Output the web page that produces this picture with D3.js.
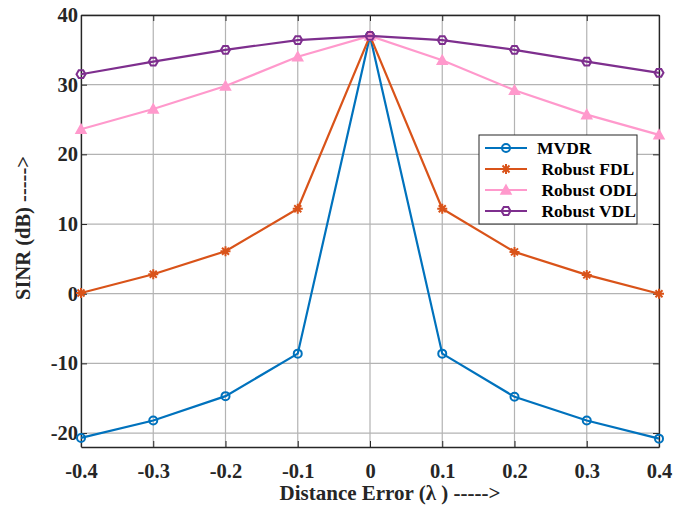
<!DOCTYPE html>
<html>
<head>
<meta charset="utf-8">
<script src="https://cdn.jsdelivr.net/npm/d3@7"></script>
<style>
  body { margin: 0; background: #fff; }
  text { font-family: "Liberation Serif", "Times New Roman", serif; font-weight: bold; }
</style>
</head>
<body>
<svg id="chart" width="695" height="506"></svg>
<script>
var distErr = [-0.4, -0.3, -0.2, -0.1, 0, 0.1, 0.2, 0.3, 0.4];
var mvdr = [-20.7, -18.2, -14.7, -8.6, 37, -8.6, -14.8, -18.2, -20.8];
var fdl = [0.1, 2.8, 6.1, 12.2, 37, 12.2, 6.0, 2.7, 0.0];
var odl = [23.6, 26.5, 29.8, 34.0, 37, 33.5, 29.2, 25.7, 22.8];
var vdl = [31.5, 33.3, 35.0, 36.4, 37, 36.4, 35.0, 33.3, 31.7];
var xTicks = [-0.4, -0.3, -0.2, -0.1, 0, 0.1, 0.2, 0.3, 0.4];
var yTicks = [-20, -10, 0, 10, 20, 30, 40];

var series = [
    { name: "MVDR", values: mvdr, color: "#0072BD", marker: "circle" },
    { name: " Robust FDL", values: fdl, color: "#D95319", marker: "star" },
    { name: " Robust ODL", values: odl, color: "#FF99CC", marker: "triangle" },
    { name: " Robust VDL", values: vdl, color: "#7E2F8E", marker: "hex" }
];

var svg = d3.select("#chart");
var pLeft = 81, pRight = 659, pTop = 15, pBottom = 447;

var x = d3.scaleLinear().domain([-0.4, 0.4]).range([pLeft, pRight]);
var y = d3.scaleLinear().domain([-22, 40]).range([pBottom, pTop]);

// grid
svg.append("g").selectAll("line").data(xTicks).enter().append("line")
    .attr("x1", function (d) { return x(d); }).attr("x2", function (d) { return x(d); })
    .attr("y1", pTop).attr("y2", pBottom)
    .attr("stroke", "#b3b3b3").attr("stroke-width", 1.2);
svg.append("g").selectAll("line").data(yTicks).enter().append("line")
    .attr("x1", pLeft).attr("x2", pRight)
    .attr("y1", function (d) { return y(d); }).attr("y2", function (d) { return y(d); })
    .attr("stroke", "#b3b3b3").attr("stroke-width", 1.2);

// axes
var fmtX = function (d) { return d === 0 ? "0" : d3.format(".1f")(d).replace("\u2212", "-"); };
var fmtY = function (d) { return String(d); };
svg.append("g").attr("transform", "translate(0," + pBottom + ")")
    .call(d3.axisBottom(x).tickValues(xTicks).tickFormat(fmtX).tickSizeInner(-6).tickSizeOuter(0).tickPadding(16));
svg.append("g").attr("transform", "translate(" + pLeft + ",0)")
    .call(d3.axisLeft(y).tickValues(yTicks).tickFormat(fmtY).tickSizeInner(-6).tickSizeOuter(0).tickPadding(3));
svg.append("g").attr("transform", "translate(0," + pTop + ")")
    .call(d3.axisTop(x).tickValues(xTicks).tickFormat("").tickSizeInner(-6).tickSizeOuter(0));
svg.append("g").attr("transform", "translate(" + pRight + ",0)")
    .call(d3.axisRight(y).tickValues(yTicks).tickFormat("").tickSizeInner(-6).tickSizeOuter(0));

svg.selectAll(".domain").attr("stroke", "#262626").attr("stroke-width", 1.3);
svg.selectAll(".tick line").attr("stroke", "#262626");
svg.selectAll(".tick text").attr("font-size", 20.5).attr("fill", "#262626")
    .style("font-family", "Liberation Serif").style("font-weight", "bold");

// lines
var line = d3.line()
    .x(function (d, i) { return x(distErr[i]); })
    .y(function (d) { return y(d); });

function drawMarker(g, type, color) {
    if (type === "circle") {
        g.append("circle").attr("r", 4).attr("fill", "none").attr("stroke", color).attr("stroke-width", 2);
    } else if (type === "star") {
        g.append("path").attr("d", "M-5,0L5,0M0,-5L0,5M-3.5,-3.5L3.5,3.5M-3.5,3.5L3.5,-3.5")
            .attr("stroke", color).attr("stroke-width", 2);
    } else if (type === "triangle") {
        g.append("path").attr("d", "M0,-5L5,4L-5,4Z").attr("fill", color).attr("stroke", color).attr("stroke-width", 1.5);
    } else {
        g.append("path").attr("d", d3.line()(d3.range(6).map(function (k) {
            var a = Math.PI / 3 * k;
            return [4.5 * Math.cos(a), 4.5 * Math.sin(a)];
        })) + "Z").attr("fill", "none").attr("stroke", color).attr("stroke-width", 2);
    }
}

series.forEach(function (s) {
    svg.append("path").datum(s.values)
        .attr("d", line).attr("fill", "none")
        .attr("stroke", s.color).attr("stroke-width", 2.2);
    svg.append("g").selectAll("g").data(s.values).enter().append("g")
        .attr("transform", function (d, i) { return "translate(" + x(distErr[i]) + "," + y(d) + ")"; })
        .each(function () { drawMarker(d3.select(this), s.marker, s.color); });
});

// legend
var lg = svg.append("g").attr("transform", "translate(479,135)");
lg.append("rect").attr("width", 158).attr("height", 89)
    .attr("fill", "#fff").attr("stroke", "#262626").attr("stroke-width", 1);
series.forEach(function (s, i) {
    var yy = 13 + i * 21;
    lg.append("line").attr("x1", 6).attr("x2", 48).attr("y1", yy).attr("y2", yy)
        .attr("stroke", s.color).attr("stroke-width", 2.2);
    var m = lg.append("g").attr("transform", "translate(27," + yy + ")");
    drawMarker(m, s.marker, s.color);
    lg.append("text").attr("x", 58).attr("y", yy + 6).attr("font-size", 17.5)
        .attr("fill", "#000").style("white-space", "pre").text(s.name);
});

// axis titles
svg.append("text").attr("x", 390).attr("y", 500).attr("text-anchor", "middle")
    .attr("font-size", 21).attr("fill", "#262626").text("Distance Error (λ ) ----->");
svg.append("text").attr("transform", "translate(30,228) rotate(-90)").attr("text-anchor", "middle")
    .attr("font-size", 20.5).attr("fill", "#262626").text("SINR (dB) ----->");
</script>
</body>
</html>
